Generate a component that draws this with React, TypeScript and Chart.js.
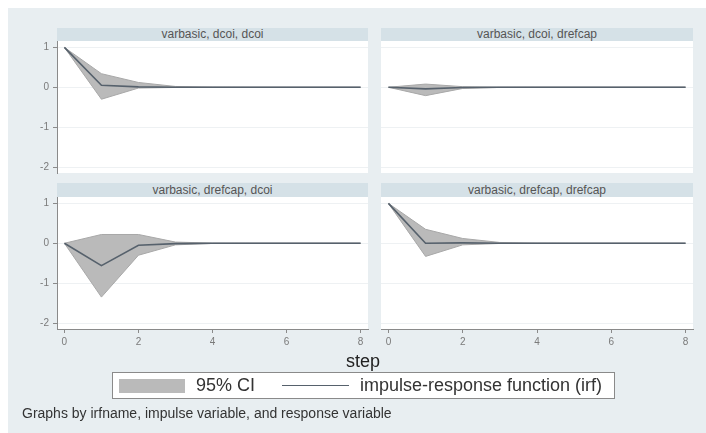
import React, { useEffect, useRef } from "react";
import { Chart, registerables } from "chart.js";
Chart.register(...registerables);

const steps = [0, 1, 2, 3, 4, 5, 6, 7, 8];
const xTicks = [0, 2, 4, 6, 8];
const yTicks = [1, 0, -1, -2];

const panelTitles = [
  "varbasic, dcoi, dcoi",
  "varbasic, dcoi, drefcap",
  "varbasic, drefcap, dcoi",
  "varbasic, drefcap, drefcap",
];

const irfDcoiDcoi = [1, 0.05, 0.01, 0, 0, 0, 0, 0, 0];
const loDcoiDcoi = [1, -0.3, -0.02, -0.005, 0, 0, 0, 0, 0];
const hiDcoiDcoi = [1, 0.34, 0.12, 0.02, 0.003, 0, 0, 0, 0];

const irfDcoiDrefcap = [0, -0.04, -0.005, 0, 0, 0, 0, 0, 0];
const loDcoiDrefcap = [0, -0.21, -0.03, -0.004, 0, 0, 0, 0, 0];
const hiDcoiDrefcap = [0, 0.08, 0.015, 0.002, 0, 0, 0, 0, 0];

const irfDrefcapDcoi = [0, -0.56, -0.05, -0.01, 0, 0, 0, 0, 0];
const loDrefcapDcoi = [0, -1.35, -0.3, -0.04, -0.005, 0, 0, 0, 0];
const hiDrefcapDcoi = [0, 0.22, 0.22, 0.03, 0.004, 0, 0, 0, 0];

const irfDrefcapDrefcap = [1, 0.0, 0.01, 0, 0, 0, 0, 0, 0];
const loDrefcapDrefcap = [1, -0.33, -0.04, -0.005, 0, 0, 0, 0, 0];
const hiDrefcapDrefcap = [1, 0.35, 0.12, 0.02, 0.003, 0, 0, 0, 0];

const X_MIN = -0.2;
const X_MAX = 8.2;
const Y_MIN = -2.15;
const Y_MAX = 1.16;

const BG = "#e8eef1";
const HEADER_BG = "#d5e1e7";
const CI_FILL = "#bababa";
const CI_EDGE = "#a8a8a8";
const IRF_COLOR = "#56616c";
const FONT = "'Liberation Sans', Arial, Helvetica, sans-serif";

type PanelProps = {
  title: string;
  irf: number[];
  lo: number[];
  hi: number[];
  plotLeft: number;
  plotWidth: number;
  headerTop: number;
  headerHeight: number;
  showY: boolean;
  showX: boolean;
};

const PLOT_H = 132;

function Panel(p: PanelProps) {
  const ref = useRef<HTMLCanvasElement | null>(null);
  const yW = p.showY ? 30 : 0;
  const padL = p.showY ? 0 : 2;
  const padT = 10;
  const padR = 4;
  const xH = p.showX ? 24 : 0;
  const padB = p.showX ? 0 : 10;
  const areaLeft = padL + yW;
  const cw = areaLeft + p.plotWidth + padR;
  const ch = padT + PLOT_H + xH + padB;
  const plotTop = p.headerTop + p.headerHeight;

  useEffect(() => {
    if (!ref.current) return;
    const toPts = (arr: number[]) => steps.map((s, i) => ({ x: s, y: arr[i] }));
    const chart = new Chart(ref.current, {
      type: "line",
      data: {
        datasets: [
          {
            data: toPts(p.irf),
            borderColor: IRF_COLOR,
            borderWidth: 1.6,
            pointRadius: 0,
            fill: false,
            tension: 0,
          },
          {
            data: toPts(p.lo),
            borderColor: CI_EDGE,
            borderWidth: 1,
            pointRadius: 0,
            fill: false,
            tension: 0,
          },
          {
            data: toPts(p.hi),
            borderColor: CI_EDGE,
            borderWidth: 1,
            pointRadius: 0,
            backgroundColor: CI_FILL,
            fill: "-1",
            tension: 0,
          },
        ],
      },
      options: {
        animation: false,
        responsive: false,
        maintainAspectRatio: false,
        layout: {
          autoPadding: false,
          padding: { left: padL, top: padT, right: padR, bottom: padB },
        },
        plugins: { legend: { display: false }, tooltip: { enabled: false } },
        scales: {
          x: {
            type: "linear",
            display: p.showX,
            min: X_MIN,
            max: X_MAX,
            afterBuildTicks: (scale: any) => {
              scale.ticks = xTicks.map((v) => ({ value: v }));
            },
            afterFit: (scale: any) => {
              scale.height = xH;
            },
            grid: {
              drawOnChartArea: false,
              drawTicks: true,
              tickLength: 4,
              tickColor: "#8a8a8a",
            },
            border: { display: true, color: "#8a8a8a", width: 1 },
            ticks: {
              color: "#7a7a7a",
              font: { size: 10, family: FONT },
              padding: 3,
              maxRotation: 0,
            },
          },
          y: {
            type: "linear",
            display: true,
            min: Y_MIN,
            max: Y_MAX,
            afterBuildTicks: (scale: any) => {
              scale.ticks = yTicks.map((v) => ({ value: v }));
            },
            afterFit: (scale: any) => {
              scale.width = yW;
            },
            grid: {
              drawOnChartArea: true,
              color: "#eef1f3",
              drawTicks: p.showY,
              tickLength: 4,
              tickColor: "#8a8a8a",
            },
            border: { display: p.showY, color: "#8a8a8a", width: 1 },
            ticks: {
              display: p.showY,
              color: "#7a7a7a",
              font: { size: 10, family: FONT },
              padding: 4,
            },
          },
        },
      },
    } as any);
    return () => chart.destroy();
  }, []);

  return (
    <>
      <div
        style={{
          position: "absolute",
          left: p.plotLeft,
          top: p.headerTop,
          width: p.plotWidth,
          height: p.headerHeight,
          background: HEADER_BG,
          color: "#555",
          font: `12px ${FONT}`,
          lineHeight: `${p.headerHeight}px`,
          textAlign: "center",
          whiteSpace: "nowrap",
        }}
      >
        {p.title}
      </div>
      <div
        style={{
          position: "absolute",
          left: p.plotLeft,
          top: plotTop,
          width: p.plotWidth,
          height: PLOT_H,
          background: "#ffffff",
        }}
      />
      <canvas
        ref={ref}
        width={cw}
        height={ch}
        style={{
          position: "absolute",
          left: p.plotLeft - areaLeft,
          top: plotTop - padT,
          width: cw,
          height: ch,
        }}
      />
    </>
  );
}

export default function App() {
  const colLeft = [49, 373];
  const colW = [311, 312];
  const headerTop = [20, 175];
  const headerH = [13, 14];
  return (
    <div
      style={{
        position: "fixed",
        left: 8,
        top: 8,
        width: 698,
        height: 425,
        background: BG,
        overflow: "hidden",
        fontFamily: FONT,
      }}
    >
      <Panel
        title={panelTitles[0]}
        irf={irfDcoiDcoi}
        lo={loDcoiDcoi}
        hi={hiDcoiDcoi}
        plotLeft={colLeft[0]}
        plotWidth={colW[0]}
        headerTop={headerTop[0]}
        headerHeight={headerH[0]}
        showY={true}
        showX={false}
      />
      <Panel
        title={panelTitles[1]}
        irf={irfDcoiDrefcap}
        lo={loDcoiDrefcap}
        hi={hiDcoiDrefcap}
        plotLeft={colLeft[1]}
        plotWidth={colW[1]}
        headerTop={headerTop[0]}
        headerHeight={headerH[0]}
        showY={false}
        showX={false}
      />
      <Panel
        title={panelTitles[2]}
        irf={irfDrefcapDcoi}
        lo={loDrefcapDcoi}
        hi={hiDrefcapDcoi}
        plotLeft={colLeft[0]}
        plotWidth={colW[0]}
        headerTop={headerTop[1]}
        headerHeight={headerH[1]}
        showY={true}
        showX={true}
      />
      <Panel
        title={panelTitles[3]}
        irf={irfDrefcapDrefcap}
        lo={loDrefcapDrefcap}
        hi={hiDrefcapDrefcap}
        plotLeft={colLeft[1]}
        plotWidth={colW[1]}
        headerTop={headerTop[1]}
        headerHeight={headerH[1]}
        showY={false}
        showX={true}
      />
      <div
        style={{
          position: "absolute",
          left: 255,
          top: 342,
          width: 200,
          textAlign: "center",
          font: `18px ${FONT}`,
          color: "#222",
          lineHeight: "22px",
        }}
      >
        step
      </div>
      <div
        style={{
          position: "absolute",
          left: 104,
          top: 364,
          width: 503,
          height: 27,
          boxSizing: "border-box",
          background: "#ffffff",
          border: "1px solid #8a8a8a",
        }}
      >
        <div
          style={{
            position: "absolute",
            left: 6,
            top: 6,
            width: 66,
            height: 14,
            background: CI_FILL,
          }}
        />
        <div
          style={{
            position: "absolute",
            left: 83,
            top: 0,
            font: `18px ${FONT}`,
            lineHeight: "25px",
            color: "#333",
            whiteSpace: "nowrap",
          }}
        >
          95% CI
        </div>
        <div
          style={{
            position: "absolute",
            left: 169,
            top: 12,
            width: 67,
            height: 0,
            borderTop: `1.5px solid ${IRF_COLOR}`,
          }}
        />
        <div
          style={{
            position: "absolute",
            left: 247,
            top: 0,
            font: `18px ${FONT}`,
            lineHeight: "25px",
            color: "#333",
            whiteSpace: "nowrap",
          }}
        >
          impulse-response function (irf)
        </div>
      </div>
      <div
        style={{
          position: "absolute",
          left: 14,
          top: 397,
          font: `14px ${FONT}`,
          lineHeight: "16px",
          color: "#333",
          whiteSpace: "nowrap",
        }}
      >
        Graphs by irfname, impulse variable, and response variable
      </div>
    </div>
  );
}
